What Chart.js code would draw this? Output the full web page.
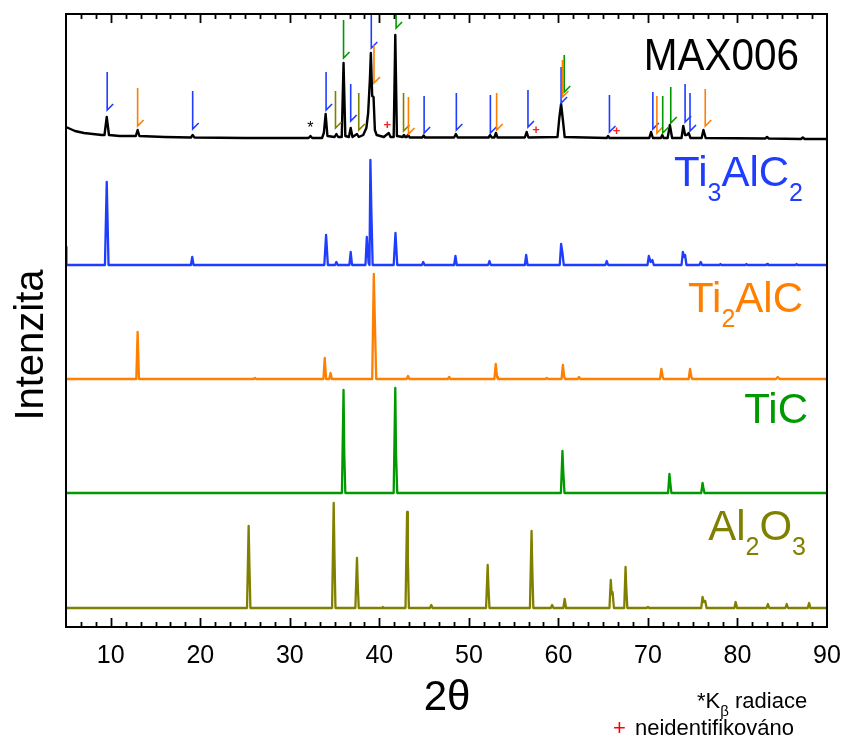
<!DOCTYPE html>
<html>
<head>
<meta charset="utf-8">
<script src="https://cdn.jsdelivr.net/npm/chart.js@4/dist/chart.umd.min.js"></script>
<style>
  html, body { margin: 0; padding: 0; background: #fff; }
  #wrap { width: 844px; height: 739px; }
</style>
</head>
<body>
<div id="wrap"><canvas id="xrdChart" width="844" height="739"></canvas></div>
<script>
// --- data ---
// 2θ positions and intensities (each pattern relative to its own baseline)
const max006Theta = [5.0, 5.5, 6.0, 7.0, 8.0, 9.0, 9.3, 9.55, 9.8, 11.0, 12.8, 13.0, 13.2, 16.0, 18.95, 19.15, 19.35, 25.0,
  32.1, 32.3, 32.5, 33.6, 33.8, 34.0, 34.2, 35.0, 35.2, 35.4, 35.8, 36.0, 36.2, 36.6, 36.8, 37.0, 37.5, 37.7,
  38.2, 38.55, 38.75, 38.95, 39.05, 39.2, 39.35, 39.5, 39.7, 40.5, 41.05, 41.25, 41.6, 41.78, 41.96,
  42.6, 42.75, 42.9, 43.05, 43.2, 43.4, 44.8, 44.95, 45.1, 48.35, 48.55, 48.75, 52.2, 52.38, 52.55, 52.85, 53.02, 53.2,
  56.25, 56.45, 56.65, 59.9, 60.1, 60.3, 60.5, 60.7, 65.4, 65.55, 65.7, 70.15, 70.35, 70.55, 71.45, 71.6, 71.75,
  72.2, 72.45, 72.7, 73.75, 73.95, 74.15, 74.35, 74.55, 74.75, 76.0, 76.2, 76.45, 83.1, 83.3, 83.5, 87.1, 87.3, 87.5, 90.0];
const max006Counts = [11, 9, 7, 5, 4, 3, 3, 21, 3, 2, 2, 8, 2, 1, 0.5, 3, 0.5, 0,
  0, 2, 0, 0, 5, 24, 2, 1, 4, 1, 1, 75, 2, 1, 10, 1, 4, 1,
  3, 10, 25, 60, 85, 42, 41, 8, 3, 1, 5, 1, 1, 103, 2,
  1, 3, 1, 1, 3, 0.5, 0.5, 2.5, 0.5, 0.5, 4, 0.5, 0.5, 3, 0.5, 0.5, 5, 0.5,
  0.5, 6, 0.5, 1, 20, 34, 18, 1, 0, 2, 0, 0, 6, 0, 0, 3, 0,
  0, 13, 0, 0, 12, 3, 3, 5, 0, 0, 8, 0, -0.5, 1, -0.5, -1, 0.5, -1, -1];

const ti3alc2Theta = [5.0, 5.05, 9.35, 9.55, 9.75, 18.95, 19.1, 19.25, 33.85, 34.05, 34.25, 35.05, 35.2, 35.35,
  36.65, 36.8, 36.95, 38.45, 38.6, 38.8, 38.9, 39.0, 39.1, 39.25, 41.6, 41.8, 42.0, 44.75, 44.9, 45.05,
  48.35, 48.5, 48.65, 52.15, 52.3, 52.45, 56.25, 56.4, 56.55, 60.15, 60.3, 60.45, 60.6, 65.25, 65.4, 65.55,
  69.95, 70.1, 70.3, 70.5, 70.65, 73.75, 73.9, 74.05, 74.15, 74.3, 75.75, 75.9, 76.05,
  78.0, 78.1, 78.2, 80.9, 81.0, 81.1, 83.2, 83.3, 83.4, 86.5, 86.6, 86.7, 90.0];
const ti3alc2Counts = [18, 0, 0, 83, 0, 0, 8, 0, 0, 30, 0, 0, 3, 0,
  0, 13, 0, 0, 28, 2, 0, 105, 57, 0, 0, 32, 0, 0, 3, 0,
  0, 9, 0, 0, 4, 0, 0, 10, 0, 0, 21, 12, 0, 0, 4, 0,
  0, 9, 3, 5, 0, 0, 13, 8, 10, 0, 0, 3, 0,
  0, 1, 0, 0, 1, 0, 0, 1, 0, 0, 1, 0, 0];

const ti2alcTheta = [5.0, 12.85, 13.0, 13.15, 25.95, 26.1, 26.25, 33.75, 33.9, 34.05, 34.4, 34.55, 34.7,
  39.2, 39.38, 39.5, 39.65, 43.05, 43.2, 43.35, 47.65, 47.8, 47.95, 52.85, 53.0, 53.15, 53.25,
  58.55, 58.7, 58.85, 60.35, 60.5, 60.65, 60.75, 62.15, 62.3, 62.45, 71.35, 71.5, 71.65, 71.75,
  74.55, 74.7, 74.85, 74.95, 84.3, 84.5, 84.7, 90.0];
const ti2alcCounts = [0, 0, 47, 0, 0, 1, 0, 0, 21, 0, 0, 6, 0,
  0, 105, 57, 0, 0, 3, 0, 0, 2, 0, 0, 15, 2, 0,
  0, 1, 0, 0, 14, 2, 0, 0, 2, 0, 0, 10, 2, 0,
  0, 10, 2, 0, 0, 2, 0, 0];

const ticTheta = [5.0, 35.82, 36.0, 36.08, 36.2, 41.6, 41.78, 41.86, 42.0, 60.28, 60.45, 60.55, 60.68,
  72.25, 72.4, 72.5, 72.62, 75.95, 76.1, 76.2, 76.32, 90.0];
const ticCounts = [0, 0, 103, 40, 0, 0, 105, 40, 0, 0, 42, 20, 0,
  0, 19, 10, 0, 0, 10, 5, 0, 0];

const al2o3Theta = [5.0, 25.22, 25.4, 25.48, 25.6, 34.72, 34.9, 34.98, 35.1, 37.32, 37.5, 37.58, 37.7,
  40.3, 40.4, 40.5, 42.92, 43.1, 43.18, 43.3, 45.65, 45.8, 45.95, 51.92, 52.1, 52.18, 52.3,
  56.82, 57.0, 57.08, 57.2, 59.15, 59.3, 59.45, 60.55, 60.7, 60.85, 65.7, 65.85, 65.95, 66.05, 66.2,
  67.35, 67.5, 67.58, 67.7, 69.85, 70.0, 70.15, 75.95, 76.1, 76.25, 76.4, 76.55,
  79.65, 79.8, 79.95, 83.25, 83.4, 83.55, 85.35, 85.5, 85.65, 87.85, 88.0, 88.15, 90.0];
const al2o3Counts = [0, 0, 82, 45, 0, 0, 105, 55, 0, 0, 50, 25, 0,
  0, 1, 0, 0, 96, 50, 0, 0, 3, 0, 0, 43, 22, 0,
  0, 77, 40, 0, 0, 3, 0, 0, 9, 0, 0, 28, 14, 16, 0,
  0, 41, 20, 0, 0, 1, 0, 0, 11, 6, 7, 0,
  0, 6, 0, 0, 4, 0, 0, 4, 0, 0, 5, 0, 0];

// vertical offsets of the stacked patterns
const seriesNames = ['MAX006', 'Ti3AlC2', 'Ti2AlC', 'TiC', 'Al2O3'];
const seriesOffsets = [489, 362, 248, 134, 19];
const seriesColors = ['#000000', '#1f3dff', '#ff7f00', '#009a00', '#808000'];

// phase markers over the MAX006 pattern: phase index (1..4), 2θ, top and bottom
const markerPhase = [1, 2, 1, 1, 4, 3, 1, 4, 1, 2, 3, 4, 2, 1, 1, 1, 2, 1, 1, 2, 3, 1, 1, 2, 3, 3, 1, 1, 2];
const markerTheta = [9.6, 13.0, 19.15, 34.05, 35.1, 36.0, 36.8, 37.7, 39.1, 39.4, 41.87, 42.7, 43.25, 45.0, 48.6,
  52.4, 53.1, 56.6, 60.3, 60.45, 60.65, 65.7, 70.55, 71.0, 71.65, 72.55, 74.15, 74.7, 76.4];
const markerTop = [555, 539, 536, 555, 536, 607, 543, 534, 625, 582, 625, 534, 530, 531, 534,
  532, 534, 537, 560, 567, 572, 532, 535, 531, 531, 540, 543, 534, 538];
const markerBottom = [517, 501, 498, 517, 499, 569, 506, 497, 579, 544, 599, 496, 493, 494, 497,
  494, 497, 500, 524, 530, 535, 495, 498, 494, 494, 504, 505, 496, 501];

// Kβ (*) and unidentified (+) peaks
const kBetaTheta = [32.3];
const kBetaY = [501];
const unknownTheta = [40.9, 57.5, 66.5];
const unknownY = [502, 497, 496];

// x axis
const xMin = 5, xMax = 90;
const xTickLabels = [10, 20, 30, 40, 50, 60, 70, 80, 90];
const minorPerMajor = 5;

const FONT = "'Liberation Sans', Arial, sans-serif";

// label layout: right edge, baseline
const labelPos = [[799, 70], [803, 186], [803, 312], [808, 423], [806, 540]];

// draw a chemical formula with subscripted digits, right aligned at x
function drawFormula(ctx, text, xRight, yBase, size, color) {
  ctx.fillStyle = color;
  if (text === 'MAX006') {
    // sample name, slightly narrower like the original
    ctx.save();
    ctx.font = `${size + 2}px ${FONT}`;
    ctx.textAlign = 'right';
    ctx.translate(xRight, yBase);
    ctx.scale(0.92, 1);
    ctx.fillText(text, 0, 0);
    ctx.restore();
    return;
  }
  const parts = text.match(/[A-Za-z]+|\d+/g);
  const subSize = Math.round(size * 0.6);
  const isSub = p => /^\d+$/.test(p);
  let w = 0;
  parts.forEach(p => {
    ctx.font = `${isSub(p) ? subSize : size}px ${FONT}`;
    w += ctx.measureText(p).width;
  });
  let x = xRight - w;
  ctx.textAlign = 'left';
  parts.forEach(p => {
    const sub = isSub(p);
    ctx.font = `${sub ? subSize : size}px ${FONT}`;
    ctx.fillText(p, x, sub ? yBase + 15 : yBase);
    x += ctx.measureText(p).width;
  });
}

// frame, inward ticks, labels, markers
const xrdDecor = {
  id: 'xrdDecor',
  afterDatasetsDraw(chart) {
    const { ctx, chartArea: a, scales: { x, y } } = chart;
    ctx.save();

    // phase markers (clipped to the plot)
    ctx.save();
    ctx.beginPath();
    ctx.rect(a.left, a.top, a.right - a.left, a.bottom - a.top);
    ctx.clip();
    ctx.lineWidth = 1.6;
    markerTheta.forEach((t, i) => {
      const px = x.getPixelForValue(t);
      const yt = y.getPixelForValue(markerTop[i]);
      const yb = y.getPixelForValue(markerBottom[i]);
      ctx.strokeStyle = seriesColors[markerPhase[i]];
      ctx.beginPath();
      ctx.moveTo(px, yt);
      ctx.lineTo(px, yb);
      ctx.lineTo(px + 6, yb - 6);
      ctx.stroke();
    });
    ctx.restore();

    ctx.textAlign = 'center';
    ctx.textBaseline = 'middle';
    ctx.font = `16px ${FONT}`;
    ctx.fillStyle = '#000';
    kBetaTheta.forEach((t, i) => ctx.fillText('*', x.getPixelForValue(t), y.getPixelForValue(kBetaY[i]) + 3));
    ctx.font = `bold 13px ${FONT}`;
    ctx.fillStyle = '#ff2020';
    unknownTheta.forEach((t, i) => ctx.fillText('+', x.getPixelForValue(t), y.getPixelForValue(unknownY[i])));

    // frame
    ctx.strokeStyle = '#000';
    ctx.lineWidth = 2;
    ctx.strokeRect(a.left, a.top, a.right - a.left, a.bottom - a.top);

    // ticks on bottom and top, pointing inwards
    const step = (xTickLabels[1] - xTickLabels[0]) / (minorPerMajor + 1);
    ctx.beginPath();
    for (let v = xTickLabels[0] - step * Math.floor((xTickLabels[0] - xMin) / step); v < xMax - 1e-6; v += step) {
      if (v <= xMin + 1e-6) continue;
      const major = xTickLabels.some(t => Math.abs(t - v) < 1e-6);
      const len = major ? 9 : 5;
      const px = Math.round(x.getPixelForValue(v)) + 0.5;
      ctx.moveTo(px, a.bottom);
      ctx.lineTo(px, a.bottom - len);
      ctx.moveTo(px, a.top);
      ctx.lineTo(px, a.top + len);
    }
    ctx.lineWidth = 1.8;
    ctx.stroke();

    // tick labels
    ctx.fillStyle = '#000';
    ctx.font = `25px ${FONT}`;
    ctx.textAlign = 'center';
    ctx.textBaseline = 'alphabetic';
    xTickLabels.forEach(t => ctx.fillText(String(t), x.getPixelForValue(t), 663));

    // axis titles
    ctx.font = `42px ${FONT}`;
    ctx.fillText('2θ', 447, 710);
    ctx.save();
    ctx.translate(43, 345);
    ctx.rotate(-Math.PI / 2);
    ctx.font = `40px ${FONT}`;
    ctx.fillText('Intenzita', 0, 0);
    ctx.restore();

    // pattern labels
    seriesNames.forEach((n, i) => drawFormula(ctx, n, labelPos[i][0], labelPos[i][1], 42, seriesColors[i]));

    // notes
    ctx.textAlign = 'left';
    ctx.fillStyle = '#000';
    ctx.font = `22px ${FONT}`;
    ctx.fillText('*K', 697, 708);
    let nx = 697 + ctx.measureText('*K').width;
    ctx.font = `15px ${FONT}`;
    ctx.fillText('β', nx, 716);
    nx += ctx.measureText('β').width;
    ctx.font = `22px ${FONT}`;
    ctx.fillText(' radiace', nx, 708);
    ctx.fillStyle = '#ff0000';
    ctx.fillText('+', 613, 735);
    ctx.fillStyle = '#000';
    ctx.fillText('neidentifikováno', 635, 735);

    ctx.restore();
  }
};

const patterns = [
  [max006Theta, max006Counts],
  [ti3alc2Theta, ti3alc2Counts],
  [ti2alcTheta, ti2alcCounts],
  [ticTheta, ticCounts],
  [al2o3Theta, al2o3Counts]
];

const datasets = patterns.map(([th, c], i) => ({
  label: seriesNames[i],
  data: th.map((t, k) => ({ x: t, y: c[k] + seriesOffsets[i] })),
  borderColor: seriesColors[i],
  borderWidth: i === 0 ? 2.4 : 2.3,
  borderJoinStyle: 'round',
  pointRadius: 0,
  tension: 0,
  fill: false
}));

new Chart(document.getElementById('xrdChart'), {
  type: 'line',
  data: { datasets },
  options: {
    responsive: false,
    animation: false,
    layout: { padding: { left: 66, right: 17, top: 14, bottom: 112 } },
    plugins: { legend: { display: false }, tooltip: { enabled: false } },
    scales: {
      x: { type: 'linear', min: xMin, max: xMax, display: false },
      y: { type: 'linear', min: 0, max: 613, display: false }
    }
  },
  plugins: [xrdDecor]
});
</script>
</body>
</html>
